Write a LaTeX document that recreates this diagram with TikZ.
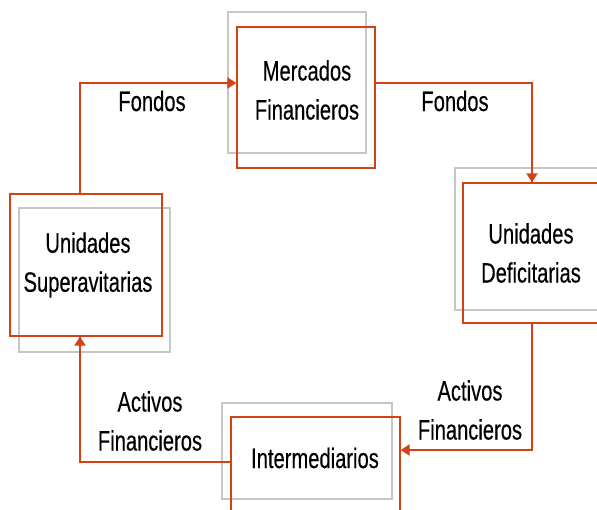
\documentclass[tikz,border=0pt]{standalone}
\usepackage{fontspec}
\setmainfont{Liberation Sans}[FakeStretch=0.72,FakeBold=0.3]
\usetikzlibrary{arrows.meta,calc}
\definecolor{rd}{RGB}{210,66,20}
\definecolor{gr}{RGB}{198,198,198}
\begin{document}
\begin{tikzpicture}[x=1pt,y=-1pt,
  redbox/.style={draw=rd, line width=1.3pt, inner sep=0pt, rectangle},
  graybox/.style={draw=gr, line width=1.6pt, inner sep=0pt, rectangle},
  lbl/.style={align=center, inner sep=0pt, font=\fontsize{28}{39}\selectfont},
  arr/.style={draw=rd, line width=2pt, -{Triangle[length=9pt,width=11pt]}},
  ln/.style={draw=rd, line width=1.3pt}]
\useasboundingbox (0,0) rectangle (597,510);
\clip (0,0) rectangle (597,510);
% gray boxes
\node[graybox, minimum width=138pt, minimum height=141pt] (mercg) at (297,82.5) {};
\node[graybox, minimum width=145pt, minimum height=142pt] (defg) at (527.5,239) {};
\node[graybox, minimum width=151pt, minimum height=144pt] (supg) at (94.5,280) {};
\node[graybox, minimum width=170pt, minimum height=96pt] (intg) at (307,451) {};
% red boxes
\node[redbox, minimum width=138pt, minimum height=141pt] (merc) at (306,97.5) {};
\node[redbox, minimum width=142pt, minimum height=140pt] (def) at (534,253) {};
\node[redbox, minimum width=152pt, minimum height=142pt] (sup) at (86,265) {};
\node[redbox, minimum width=169pt, minimum height=98pt] (int) at (315.5,466) {};
% texts
\node[lbl] (merct) at (307,90) {Mercados\\Financieros};
\node[lbl] (deft) at (531,253) {Unidades\\Deficitarias};
\node[lbl] (supt) at (88,265) {Unidades\\Superavitarias};
\node[lbl] (intt) at (315,458) {Intermediarios};
% connectors
\draw[arr] ($(sup.north)+(-6,0)$) |- (merc.west |- 0,83);
\draw[ln] (merc.east |- 0,83) -| ($(def.north)+(-2,0)$);
\draw[arr] ($(def.north)+(-2,-60)$) -- ($(def.north)+(-2,0)$);
\draw[arr] ($(def.south)+(-2,0)$) |- (int.east |- 0,450);
\draw[ln] (int.west |- 0,462) -| ($(sup.south)+(-6,0)$);
\draw[arr] ($(sup.south)+(-6,60)$) -- ($(sup.south)+(-6,0)$);
% labels
\node[lbl] (f1) at (152,101) {Fondos};
\node[lbl] (f2) at (455,101) {Fondos};
\node[lbl] (a1) at (470,410) {Activos\\Financieros};
\node[lbl] (a2) at (150,421) {Activos\\Financieros};
\end{tikzpicture}
\end{document}
